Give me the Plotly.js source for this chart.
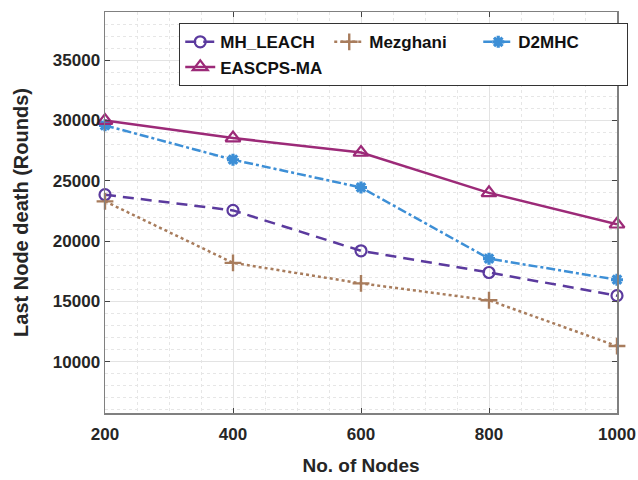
<!DOCTYPE html>
<html>
<head>
<meta charset="utf-8">
<script src="https://cdn.plot.ly/plotly-3.0.1.min.js"></script>
<style>html,body{margin:0;padding:0;background:#fff;}#chart{width:638px;height:480px;}</style>
</head>
<body>
<div id="chart"></div>
<script>
const nodes = [200, 400, 600, 800, 1000];
const mhLeach = [23850, 22550, 19200, 17400, 15480];
const mezghani = [23300, 18200, 16500, 15100, 11300];
const d2mhc = [29600, 26750, 24450, 18550, 16800];
const eascpsMa = [30000, 28550, 27350, 24000, 21400];
const xTicks = [200, 400, 600, 800, 1000];
const yTicks = [10000, 15000, 20000, 25000, 30000, 35000];

const traces = [
  {x: nodes, y: mhLeach, name: 'MH_LEACH', mode: 'lines+markers', cliponaxis: false,
   line: {color: '#5B3A9E', width: 2.5, dash: '11px,7px'},
   marker: {symbol: 'circle-open', size: 11, color: '#5B3A9E', line: {width: 2.2}}},
  {x: nodes, y: mezghani, name: 'Mezghani', mode: 'lines+markers', cliponaxis: false,
   line: {color: '#A87C5C', width: 2.5, dash: 'dot'},
   marker: {symbol: 'cross-thin-open', size: 12, color: '#A87C5C', line: {width: 2.4}}},
  {x: nodes, y: d2mhc, name: 'D2MHC', mode: 'lines+markers', cliponaxis: false,
   line: {color: '#3D8FD6', width: 2.5, dash: 'dashdot'},
   marker: {symbol: 'asterisk-open', size: 10, color: '#3D8FD6', line: {width: 3.2}}},
  {x: nodes, y: eascpsMa, name: 'EASCPS-MA', mode: 'lines+markers', cliponaxis: false,
   line: {color: '#9C2A78', width: 2.5},
   marker: {symbol: 'triangle-up-open', size: 13, color: '#9C2A78', line: {width: 2.2}}}
];

const FAM = 'Liberation Sans, Arial, sans-serif';
const axisFont = {family: FAM, size: 17, color: '#262626', weight: 'bold'};

const layout = {
  width: 638, height: 480,
  margin: {l: 105, r: 21, t: 12, b: 67, autoexpand: false},
  paper_bgcolor: '#fff', plot_bgcolor: '#fff',
  showlegend: true,
  font: {family: FAM, color: '#262626'},
  xaxis: {
    range: [200, 1000], tickvals: xTicks, ticktext: xTicks.map(String),
    automargin: false,
    showline: true, mirror: 'ticks', linecolor: '#808080', linewidth: 1.5,
    ticks: 'inside', ticklen: 5, tickcolor: '#444', tickwidth: 1,
    showgrid: true, gridcolor: '#e3e3e3', gridwidth: 1,
    minor: {dtick: 50, showgrid: true, gridcolor: '#e6e6e6', griddash: 'dot', gridwidth: 1},
    tickfont: axisFont, zeroline: false, ticklabelstandoff: 5,
    title: {text: 'No. of Nodes', font: {family: FAM, size: 19, color: '#262626', weight: 'bold'}, standoff: 16}
  },
  yaxis: {
    range: [5750, 39000], tickvals: yTicks, ticktext: yTicks.map(String),
    automargin: false,
    showline: true, mirror: 'ticks', linecolor: '#808080', linewidth: 1.5,
    ticks: 'inside', ticklen: 5, tickcolor: '#444', tickwidth: 1,
    showgrid: true, gridcolor: '#e3e3e3', gridwidth: 1,
    minor: {dtick: 1000, showgrid: true, gridcolor: '#e6e6e6', griddash: 'dot', gridwidth: 1},
    tickfont: axisFont, zeroline: false,
    title: {text: 'Last Node death (Rounds)', font: {family: FAM, size: 20, color: '#262626', weight: 'bold'}, standoff: 19}
  },
  legend: {
    orientation: 'h', x: 0.145, y: 0.972, xanchor: 'left', yanchor: 'top',
    bgcolor: '#fff', bordercolor: '#333', borderwidth: 1,
    entrywidth: 104, entrywidthmode: 'pixels',
    font: {family: FAM, size: 17, color: '#111', weight: 'bold'},
    tracegroupgap: 0
  }
};

Plotly.newPlot('chart', traces, layout, {displayModeBar: false, staticPlot: true});
</script>
</body>
</html>
